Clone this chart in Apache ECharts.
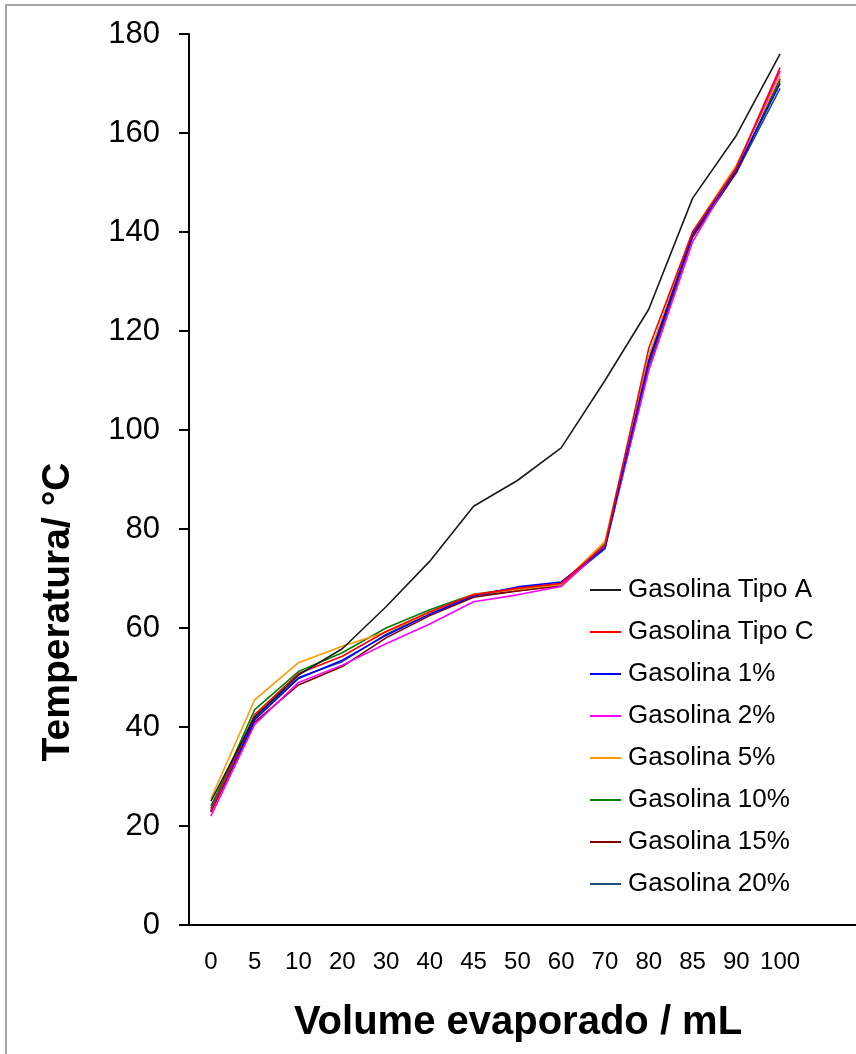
<!DOCTYPE html>
<html>
<head>
<meta charset="utf-8">
<script src="https://cdn.jsdelivr.net/npm/echarts@6/dist/echarts.min.js"></script>
<style>
html,body{margin:0;padding:0;background:#fff;}
#chart{width:856px;height:1054px;}
</style>
</head>
<body>
<div id="chart"></div>
<script>
const categories = ['0','5','10','20','30','40','45','50','60','70','80','85','90','100'];
const yTicks = [0,20,40,60,80,100,120,140,160,180];
const seriesNames = ['Gasolina Tipo A','Gasolina Tipo C','Gasolina 1%','Gasolina 2%','Gasolina 5%','Gasolina 10%','Gasolina 15%','Gasolina 20%'];
const tipoA  = [25, 42, 50.5, 55.8, 64.3, 73.5, 84.6, 89.8, 96.4, 110, 124.4, 146.8, 159.5, 176];
const tipoC  = [23, 42.5, 50.8, 54.3, 59.3, 63.3, 66.7, 68, 69, 76.8, 116.5, 140, 153, 173.2];
const g1     = [23, 41.5, 49.8, 53.5, 58.5, 62.8, 66.5, 68.3, 69.3, 76.2, 114, 139.5, 152.5, 170];
const g2     = [22, 40.5, 49, 52.5, 56.8, 60.8, 65.3, 66.7, 68.4, 76.5, 112, 138, 153, 172.5];
const g5     = [25.5, 45.5, 53, 56.3, 59.2, 63, 66.8, 67.8, 68.8, 77.5, 115, 140, 153.5, 171.5];
const g10    = [23.5, 43.5, 51.2, 55, 60, 63.7, 66.8, 68, 69, 77, 114.5, 139.5, 152.5, 170.5];
const g15    = [22.8, 41, 48.5, 52.2, 58, 62.5, 66.2, 67.5, 68.5, 76.5, 113.5, 139, 152, 171];
const g20    = [24, 42, 50, 53.2, 58.7, 63, 66.5, 67.5, 68.8, 76, 112.5, 139, 152, 169];
const colors = ['#1a1a1a','#ff0000','#0000ff','#ff00ff','#ff9900','#008000','#800000','#1f4e79'];
const allData = [tipoA, tipoC, g1, g2, g5, g10, g15, g20];

const FONT = '"Liberation Sans", Arial, sans-serif';
const chart = echarts.init(document.getElementById('chart'), null, {renderer:'canvas'});
chart.setOption({
  backgroundColor: '#ffffff',
  animation: false,
  grid: {left: 189, right: 54, top: 34, bottom: 129, containLabel: false},
  legend: {
    orient: 'vertical', left: 585, top: 572,
    itemWidth: 31, itemHeight: 2, itemGap: 16, icon: 'rect',
    textStyle: {fontFamily: FONT, fontSize: 26, color: '#000', padding: [0,0,0,2]},
    data: seriesNames
  },
  xAxis: {
    type: 'category', data: categories, boundaryGap: true,
    axisLine: {show: true, lineStyle: {color: '#000', width: 2}},
    axisTick: {show: false},
    axisLabel: {interval: 0, fontFamily: FONT, fontSize: 24, color: '#000', margin: 25},
    splitLine: {show: false}
  },
  yAxis: {
    type: 'value', min: 0, max: 180, interval: 20,
    axisLine: {show: true, lineStyle: {color: '#000', width: 2}},
    axisTick: {show: true, inside: false, length: 10, lineStyle: {color: '#000', width: 2}},
    axisLabel: {fontFamily: FONT, fontSize: 31, color: '#000', margin: 29},
    splitLine: {show: false}
  },
  graphic: [
    {type: 'rect', shape: {x: 6, y: 5, width: 900, height: 1100}, style: {fill: 'none', stroke: '#a6a6a6', lineWidth: 2}, silent: true, z: -10},
    {type: 'line', shape: {x1: 800, y1: 925, x2: 856, y2: 925}, style: {stroke: '#000', lineWidth: 2}, silent: true},
    {type: 'text', x: 518, y: 1023, style: {text: 'Volume evaporado / mL', fontFamily: FONT, fontSize: 40, fontWeight: 'bold', fill: '#000', textAlign: 'center', textVerticalAlign: 'middle'}},
    {type: 'text', x: 58, y: 612, rotation: Math.PI/2, style: {text: 'Temperatura/ °C', fontFamily: FONT, fontSize: 39, fontWeight: 'bold', fill: '#000', textAlign: 'center', textVerticalAlign: 'middle'}}
  ],
  series: seriesNames.map((name, i) => ({
    name: name, type: 'line', data: allData[i],
    symbol: 'none', smooth: false,
    lineStyle: {color: colors[i], width: 1.6},
    itemStyle: {color: colors[i]},
    z: 10 - i
  }))
});
</script>
</body>
</html>
